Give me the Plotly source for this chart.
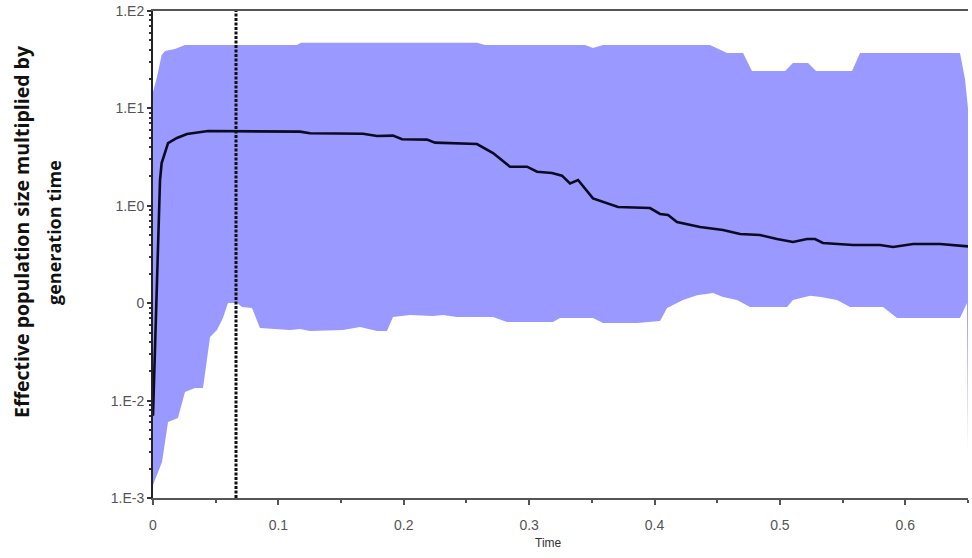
import plotly.graph_objects as go

# ---- data ----
median_t = [0, 0.0056, 0.0069, 0.012, 0.0191, 0.0271, 0.0439, 0.0678, 0.1172, 0.1252,
            0.1675, 0.1787, 0.1914, 0.1986, 0.2185, 0.2249, 0.2584, 0.2712, 0.2847, 0.2983,
            0.3063, 0.3182, 0.3262, 0.3326, 0.3390, 0.3509, 0.3589, 0.3709, 0.3964, 0.4044,
            0.4108, 0.4179, 0.4363, 0.4546, 0.4682, 0.4841, 0.4977, 0.5104, 0.5216, 0.5280,
            0.5343, 0.5583, 0.5798, 0.5902, 0.6062, 0.6277, 0.65]
median_v = [0.007, 1.84, 2.75, 4.41, 4.97, 5.46, 5.86, 5.86, 5.77, 5.55,
            5.50, 5.21, 5.25, 4.82, 4.78, 4.45, 4.31, 3.48, 2.52, 2.52,
            2.24, 2.17, 2.04, 1.70, 1.84, 1.19, 1.09, 0.973, 0.949, 0.824,
            0.805, 0.682, 0.606, 0.565, 0.513, 0.501, 0.456, 0.425, 0.456, 0.456,
            0.415, 0.396, 0.396, 0.378, 0.405, 0.405, 0.383]

upper_t = [0, 0.0032, 0.0069, 0.0096, 0.0175, 0.0255, 0.1149, 0.1180, 0.2584, 0.2648,
           0.3446, 0.3509, 0.3589, 0.4442, 0.4578, 0.4706, 0.4777, 0.5041, 0.5104, 0.5224,
           0.5288, 0.5575, 0.5639, 0.6436, 0.6476, 0.65]
upper_v = [14.7, 21.0, 35.3, 38.8, 40.7, 44.8, 44.8, 47.3, 47.3, 44.8,
           44.8, 41.7, 44.8, 44.8, 37.1, 37.1, 24.2, 24.2, 29.2, 29.2,
           24.2, 24.2, 37.1, 37.1, 20.0, 10.0]

lower_t = [0, 0.0016, 0.0040, 0.0072, 0.0120, 0.0199, 0.0255, 0.0335, 0.0399, 0.0455,
           0.0510, 0.0558, 0.0598, 0.0670, 0.0710, 0.0790, 0.0853, 0.0973, 0.1093, 0.1172,
           0.1252, 0.1515, 0.1651, 0.1787, 0.1866, 0.1914, 0.2050, 0.2233, 0.2313, 0.2425,
           0.2712, 0.2823, 0.3190, 0.3246, 0.3509, 0.3589, 0.3860, 0.4044, 0.4100, 0.4227,
           0.4339, 0.4467, 0.4546, 0.4658, 0.4762, 0.5057, 0.5104, 0.5240, 0.5327, 0.5455,
           0.5559, 0.5822, 0.5934, 0.6436, 0.6492, 0.65]
lower_v = [0.00136, 0.00153, 0.00181, 0.00234, 0.00603, 0.00663, 0.01225, 0.01346, 0.01346, 0.0450,
           0.0531, 0.0705, 0.1005, 0.1005, 0.0914, 0.0893, 0.0556, 0.0543, 0.0531, 0.0543,
           0.0519, 0.0531, 0.0570, 0.0519, 0.0519, 0.0722, 0.0757, 0.0739, 0.0757, 0.0722,
           0.0722, 0.0641, 0.0641, 0.0705, 0.0705, 0.0627, 0.0627, 0.0656, 0.0893, 0.108,
           0.121, 0.127, 0.116, 0.108, 0.0914, 0.0914, 0.108, 0.119, 0.116, 0.108,
           0.0914, 0.0914, 0.0705, 0.0705, 0.1005, 0.0031]

marker_time = 0.0662

x_ticks = [0, 0.1, 0.2, 0.3, 0.4, 0.5, 0.6]
x_ticktext = ["0", "0.1", "0.2", "0.3", "0.4", "0.5", "0.6"]
y_ticks = [1e-3, 1e-2, 1e-1, 1e0, 1e1, 1e2]
y_ticktext = ["1.E-3", "1.E-2", "0", "1.E0", "1.E1", "1.E2"]

y_title_1 = "Effective population size multiplied by"
y_title_2 = "generation time"
x_title = "Time"

# ---- figure ----
fig = go.Figure()

band_x = upper_t + lower_t[::-1]
band_y = upper_v + lower_v[::-1]
fig.add_trace(go.Scatter(x=band_x, y=band_y, mode="lines", fill="toself",
                         fillcolor="#9999ff", line=dict(width=0, color="#9999ff"),
                         hoverinfo="skip", showlegend=False))

fig.add_trace(go.Scatter(x=median_t, y=median_v, mode="lines",
                         line=dict(color="#0b0b1f", width=2.6), showlegend=False))

fig.add_trace(go.Scatter(x=[marker_time, marker_time], y=[y_ticks[0], y_ticks[-1]],
                         mode="lines", line=dict(color="#111111", width=3, dash="3px,1.5px"),
                         showlegend=False))

minor_y = [m * 10 ** e for e in range(-3, 2) for m in range(2, 10)]

title_font_1 = dict(family="Open Sans, Lato, sans-serif", size=19.5, color="#111111",
                    weight="bold")
title_font_2 = dict(family="Open Sans, Lato, sans-serif", size=18, color="#111111",
                    weight="bold")

fig.update_layout(
    width=972, height=558,
    margin=dict(l=153, r=4, t=11, b=60),
    plot_bgcolor="white", paper_bgcolor="white",
    font=dict(family="Arial, Liberation Sans, sans-serif", color="#444444"),
    xaxis=dict(range=[0, 0.65], tickmode="array", tickvals=x_ticks, ticktext=x_ticktext,
               showgrid=False, zeroline=False, showline=True, linecolor="#555555",
               linewidth=2, mirror=True, ticks="outside", ticklen=5, tickwidth=2,
               tickcolor="#555555", tickfont=dict(size=14, color="#555555"),
               ticklabelstandoff=8,
               minor=dict(dtick=0.05, tick0=0, ticks="outside", ticklen=3,
                          tickwidth=2, tickcolor="#555555")),
    yaxis=dict(type="log", range=[-3, 2], tickmode="array", tickvals=y_ticks,
               ticktext=y_ticktext, showgrid=False, zeroline=False, showline=True,
               linecolor="#222222", linewidth=2, ticks="outside", ticklen=4,
               tickwidth=2, tickcolor="#333333",
               tickfont=dict(size=14, color="#555555"),
               minor=dict(tickmode="array", tickvals=minor_y, ticks="outside",
                          ticklen=2, tickwidth=2, tickcolor="#333333")),
    annotations=[
        dict(text=y_title_1, xref="paper", yref="paper", x=(21 - 153) / 815,
             y=(498 - 232) / 487, textangle=-90, showarrow=False,
             xanchor="center", yanchor="middle", font=title_font_1),
        dict(text=y_title_2, xref="paper", yref="paper", x=(54 - 153) / 815,
             y=(498 - 233) / 487, textangle=-90, showarrow=False,
             xanchor="center", yanchor="middle", font=title_font_2),
        dict(text=x_title, xref="paper", yref="paper", x=(548 - 153) / 815,
             y=(498 - 543) / 487, showarrow=False, xanchor="center", yanchor="middle",
             font=dict(family="Arial, Liberation Sans, sans-serif", size=12,
                       color="#333333")),
    ],
)

fig.write_html("out.html")
